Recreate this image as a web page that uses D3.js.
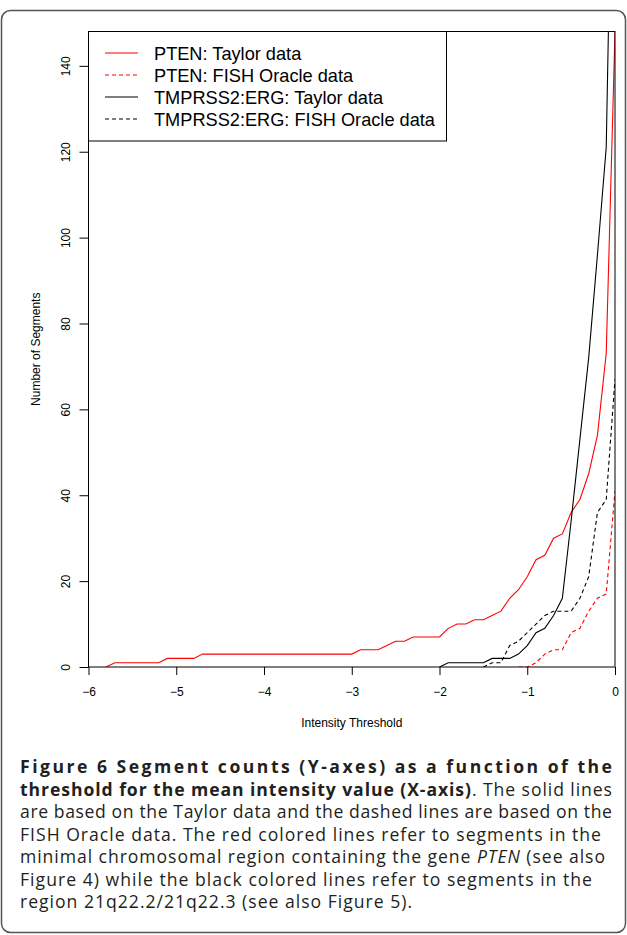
<!DOCTYPE html>
<html>
<head>
<meta charset="utf-8">
<script src="https://cdn.jsdelivr.net/npm/d3@7"></script>
<style>
  body { margin: 0; background: #fff; }
  svg text { font-family: "Liberation Sans", Arial, sans-serif; }
  svg text.cap { font-family: "Open Sans", "Noto Sans", sans-serif; fill: #231f20; }
</style>
</head>
<body>
<div id="chart"></div>
<script>
// intensity thresholds, -6.0 .. 0.0 in steps of 0.1
const thresholds = [-6.0, -5.9, -5.8, -5.7, -5.6, -5.5, -5.4, -5.3, -5.2, -5.1,
  -5.0, -4.9, -4.8, -4.7, -4.6, -4.5, -4.4, -4.3, -4.2, -4.1,
  -4.0, -3.9, -3.8, -3.7, -3.6, -3.5, -3.4, -3.3, -3.2, -3.1,
  -3.0, -2.9, -2.8, -2.7, -2.6, -2.5, -2.4, -2.3, -2.2, -2.1,
  -2.0, -1.9, -1.8, -1.7, -1.6, -1.5, -1.4, -1.3, -1.2, -1.1,
  -1.0, -0.9, -0.8, -0.7, -0.6, -0.5, -0.4, -0.3, -0.2, -0.1, 0.0];

const ptenTaylor = [null, null, 0, 1, 1, 1, 1, 1, 1, 2,
  2, 2, 2, 3, 3, 3, 3, 3, 3, 3,
  3, 3, 3, 3, 3, 3, 3, 3, 3, 3,
  3, 4, 4, 4, 5, 6, 6, 7, 7, 7,
  7, 9, 10, 10, 11, 11, 12, 13, 16, 18,
  21, 25, 26, 30, 31, 36, 39, 45, 54, 73, 148];

const ptenFish = Array(49).fill(null).concat(
  [0, 0, 1, 3, 4, 4, 8, 9, 13, 16, 17, 41]);

const tmprssTaylor = Array(40).fill(null).concat(
  [0, 1, 1, 1, 1, 1, 2, 2, 2, 3, 5, 8, 9, 12, 16, 34, 53, 72, 96, 121, 230]);

const tmprssFish = Array(45).fill(null).concat(
  [0, 1, 1, 5, 6, 8, 10, 12, 13, 13, 13, 16, 21, 36, 39, 67]);

const seriesNames = ["PTEN: Taylor data", "PTEN: FISH Oracle data",
  "TMPRSS2:ERG: Taylor data", "TMPRSS2:ERG: FISH Oracle data"];
const seriesValues = [ptenTaylor, ptenFish, tmprssTaylor, tmprssFish];
const seriesColors = ["#f00", "#f00", "#000", "#000"];
const seriesDash = [null, "4,3", null, "4,3"];

const xTicks = [-6, -5, -4, -3, -2, -1, 0];
const yTicks = [0, 20, 40, 60, 80, 100, 120, 140];

const captionLines = [
  [{t: "Figure 6 Segment counts (Y-axes) as a function of the", b: true}],
  [{t: "threshold for the mean intensity value (X-axis)", b: true}, {t: ". The solid lines"}],
  [{t: "are based on the Taylor data and the dashed lines are based on the"}],
  [{t: "FISH Oracle data. The red colored lines refer to segments in the"}],
  [{t: "minimal chromosomal region containing the gene "}, {t: "PTEN", i: true}, {t: " (see also"}],
  [{t: "Figure 4) while the black colored lines refer to segments in the"}],
  [{t: "region 21q22.2/21q22.3 (see also Figure 5)."}]
];
const captionWidths = [592, 592, 592, 581, 585, 572, 392];

const W = 627, H = 935;
const plot = {left: 88.5, right: 615, top: 31.5, bottom: 667};

const svg = d3.select("#chart").append("svg")
    .attr("width", W)
    .attr("height", H);

// page frame
svg.append("rect")
    .attr("x", 1.5).attr("y", 10.5)
    .attr("width", W - 3).attr("height", H - 13)
    .attr("rx", 9)
    .attr("fill", "none")
    .attr("stroke", "#555")
    .attr("stroke-width", 1.5);

const x = d3.scaleLinear().domain([-6, 0]).range([plot.left, plot.right]);
const y = d3.scaleLinear().domain([0, 148]).range([plot.bottom, plot.top]);

svg.append("clipPath").attr("id", "clip")
  .append("rect")
    .attr("x", plot.left).attr("y", plot.top)
    .attr("width", plot.right - plot.left)
    .attr("height", plot.bottom - plot.top);

const line = d3.line()
    .defined(d => d[1] != null)
    .x(d => x(d[0]))
    .y(d => y(d[1]));

const g = svg.append("g").attr("clip-path", "url(#clip)");
seriesValues.forEach((vals, i) => {
  g.append("path")
      .datum(thresholds.map((t, j) => [t, vals[j]]))
      .attr("d", line)
      .attr("fill", "none")
      .attr("stroke", seriesColors[i])
      .attr("stroke-width", 1.1)
      .attr("stroke-dasharray", seriesDash[i]);
});

// axes
const xAxis = svg.append("g")
    .attr("transform", "translate(0," + plot.bottom + ")")
    .call(d3.axisBottom(x).tickValues(xTicks).tickSize(8).tickPadding(12)
      .tickFormat(d => d3.format("d")(d).replace("-", "\u2212")));
xAxis.selectAll("text").attr("font-size", 12).attr("fill", "#000")
    .attr("font-family", "Liberation Sans, Arial, sans-serif");
xAxis.select(".domain").remove();

const yAxis = svg.append("g")
    .attr("transform", "translate(" + plot.left + ",0)")
    .call(d3.axisLeft(y).tickValues(yTicks).tickSize(9).tickFormat(d3.format("d")));
yAxis.select(".domain").remove();
yAxis.selectAll(".tick text")
    .attr("x", null).attr("dy", null)
    .attr("text-anchor", "middle")
    .attr("font-size", 12).attr("fill", "#000")
    .attr("font-family", "Liberation Sans, Arial, sans-serif")
    .attr("transform", "translate(-19,0) rotate(-90)");

// plot box
svg.append("rect")
    .attr("x", plot.left).attr("y", plot.top)
    .attr("width", plot.right - plot.left)
    .attr("height", plot.bottom - plot.top)
    .attr("fill", "none")
    .attr("stroke", "#000");

svg.append("text")
    .attr("x", (plot.left + plot.right) / 2)
    .attr("y", 727)
    .attr("text-anchor", "middle")
    .attr("font-size", 12)
    .text("Intensity Threshold");

svg.append("text")
    .attr("transform", "translate(40," + (plot.top + plot.bottom) / 2 + ") rotate(-90)")
    .attr("text-anchor", "middle")
    .attr("font-size", 12)
    .text("Number of Segments");

// legend
const legend = svg.append("g");
legend.append("rect")
    .attr("x", plot.left).attr("y", plot.top)
    .attr("width", 358).attr("height", 109.5)
    .attr("fill", "#fff")
    .attr("stroke", "#000");
seriesNames.forEach((name, i) => {
  const ly = 53 + i * 22;
  legend.append("path")
      .attr("d", "M105," + ly + "H138")
      .attr("fill", "none")
      .attr("stroke", seriesColors[i])
      .attr("stroke-width", 1.2)
      .attr("stroke-dasharray", seriesDash[i]);
  legend.append("text")
      .attr("x", 154).attr("y", ly + 6.5)
      .attr("font-size", 18.2)
      .text(name);
});

// caption
captionLines.forEach((parts, i) => {
  const t = svg.append("text")
      .attr("class", "cap")
      .attr("x", 20)
      .attr("y", 773 + i * 22.5)
      .attr("font-size", 17.6);
  parts.forEach(p => {
    t.append("tspan")
        .attr("font-weight", p.b ? "bold" : null)
        .attr("font-style", p.i ? "italic" : null)
        .text(p.t);
  });
  t.attr("textLength", captionWidths[i]).attr("lengthAdjust", "spacing");
});
</script>
</body>
</html>
